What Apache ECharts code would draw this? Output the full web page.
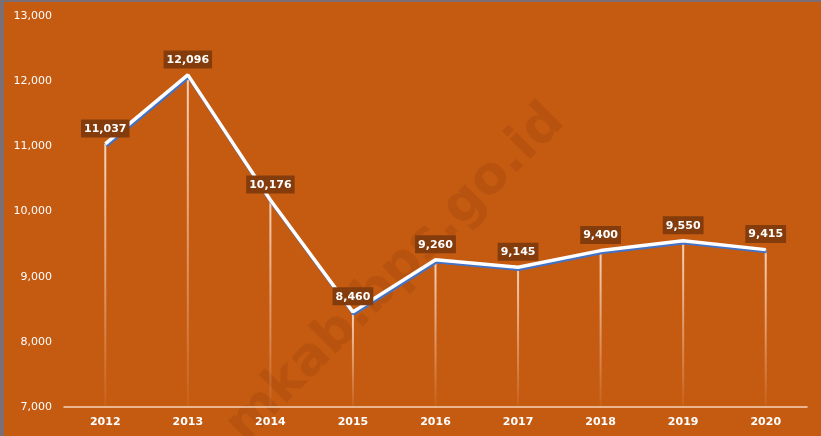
<!DOCTYPE html>
<html>
<head>
<meta charset="utf-8">
<script src="https://cdn.jsdelivr.net/npm/echarts@6/dist/echarts.min.js"></script>
<style>
  html, body { margin: 0; padding: 0; background: #7b6e74; }
  #chart { position: absolute; left: 4px; top: 2px; width: 817px; height: 434px; }
</style>
</head>
<body>
<div id="chart"></div>
<script>
// data
let years = ['2012', '2013', '2014', '2015', '2016', '2017', '2018', '2019', '2020'];
let values = [11037, 12096, 10176, 8460, 9260, 9145, 9400, 9550, 9415];

let myChart = echarts.init(document.getElementById('chart'));

myChart.setOption({
  animation: false,
  backgroundColor: '#C55A11',
  grid: {
    left: 60,
    right: 14,
    top: 14,
    bottom: 29
  },
  graphic: [
    {
      type: 'text',
      x: 392,
      y: 272,
      rotation: Math.PI / 4,
      z: 0,
      style: {
        text: 'mkab.bps.go.id',
        fontFamily: 'DejaVu Sans',
        fontWeight: 'bold',
        fontSize: 52,
        fill: 'rgba(60, 20, 0, 0.09)',
        align: 'center',
        verticalAlign: 'middle'
      }
    }
  ],
  xAxis: {
    type: 'category',
    data: years,
    axisLine: {
      lineStyle: { color: 'rgba(255,235,220,0.85)', width: 1.5 }
    },
    axisTick: { show: false },
    axisLabel: {
      color: '#ffffff',
      fontFamily: 'DejaVu Sans',
      fontWeight: 'bold',
      fontSize: 11,
      margin: 10
    }
  },
  yAxis: {
    type: 'value',
    min: 7000,
    max: 13000,
    interval: 1000,
    axisLine: { show: false },
    axisTick: { show: false },
    splitLine: { show: false },
    axisLabel: {
      color: '#ffffff',
      fontFamily: 'DejaVu Sans',
      fontSize: 11,
      margin: 12,
      formatter: function (v) {
        return v.toLocaleString('en-US');
      }
    }
  },
  series: [
    {
      // drop lines from each point down to the axis
      type: 'bar',
      barWidth: 2,
      silent: true,
      itemStyle: {
        color: new echarts.graphic.LinearGradient(0, 0, 0, 1, [
          { offset: 0, color: 'rgba(255,225,205,0.9)' },
          { offset: 1, color: 'rgba(255,225,205,0.05)' }
        ])
      },
      data: values
    },
    {
      type: 'line',
      symbol: 'circle',
      symbolSize: 1,
      showSymbol: true,
      itemStyle: { color: '#ffffff' },
      lineStyle: {
        color: '#ffffff',
        width: 3.5,
        shadowColor: '#4472C4',
        shadowBlur: 0,
        shadowOffsetX: 1,
        shadowOffsetY: 2
      },
      label: {
        show: true,
        position: 'top',
        distance: 6,
        color: '#ffffff',
        fontFamily: 'DejaVu Sans',
        fontWeight: 'bold',
        fontSize: 11,
        backgroundColor: '#843C0C',
        padding: [4, 3, 3, 3],
        formatter: function (p) {
          return Number(p.value).toLocaleString('en-US');
        }
      },
      z: 3,
      data: values
    }
  ]
});
</script>
</body>
</html>
